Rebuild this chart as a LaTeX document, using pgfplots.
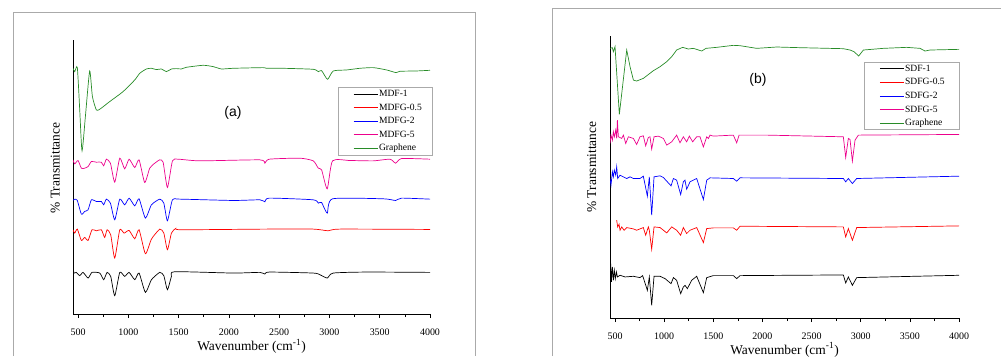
\documentclass[border=0pt]{standalone}
\usepackage{fontspec}
\setmainfont{Liberation Serif}
\newfontfamily\arialfont{Liberation Sans}
\usepackage{pgfplots}
\pgfplotsset{compat=1.18}
\definecolor{gcol}{RGB}{40,140,40}
\definecolor{framecol}{RGB}{170,170,170}
\pgfplotsset{
  legend image code/.code={\path (0bp,0bp); \draw[#1] (13bp,0bp) -- (37bp,0bp);},
  ftir/.style={
    scale only axis,
    anchor=south west,
    axis x line=bottom, axis y line=left,
    axis line style={-, line width=0.8bp, black},
    xmax=4000,
    xtick={500,1000,...,4000},
    minor x tick num=1,
    ytick=\empty,
    tick align=outside,
    major tick length=4bp, minor tick length=3bp,
    every tick/.style={black, line width=0.6bp},
    /pgf/number format/1000 sep={},
    /pgf/number format/assume math mode=true,
    xticklabel style={font=\fontsize{10}{12}\selectfont, anchor=center, yshift=-14bp},
    label style={font=\fontsize{13.5}{16}\selectfont},
    ylabel={\% Transmittance},
    xlabel={Wavenumber (cm\textsuperscript{-1})},
    legend cell align=left,
    legend style={draw=framecol, line width=0.6bp, font=\fontsize{9.6}{11.5}\selectfont,
      row sep=4.6bp, inner sep=2bp,
      nodes={inner xsep=1bp, inner ysep=0bp, text height=7bp, text depth=2bp}},
    every axis plot/.append style={line width=0.7bp},
  }
}
\begin{document}
\begin{tikzpicture}[x=1bp,y=1bp]
\useasboundingbox (0,0) rectangle (1001,356);
\draw[framecol, line width=0.8bp] (13,0) -- (13,344) -- (475,344) -- (475,0);
\draw[framecol, line width=0.8bp] (552,0) -- (552,348) -- (1001,348);
% ---------------- panel (a)
\begin{axis}[ftir, at={(73bp,42bp)}, width=357bp, height=274bp,
  xmin=450, ymin=57, ymax=880,
  ylabel style={at={(axis description cs:-0.05,0.533)}, anchor=center, rotate=0},
  xlabel style={at={(axis description cs:0.5,-0.117)}, anchor=center},
  legend style={at={(1.006,0.828)}, anchor=north east},
  every axis plot/.append style={smooth, tension=0.35}]
\addplot[black] coordinates {(450,200)(460,180)(483,182)(517,172)(550,182)(600,165)(639,182)(716,180)(755,160)(789,182)(825,170)(865,112)(915,182)(964,170)(1008,182)(1064,160)(1107,180)(1170,122)(1230,160)(1313,182)(1353,172)(1389,130)(1429,170)(1462,184)(2043,180)(2308,182)(2358,177)(2401,183)(2839,180)(2905,175)(2978,165)(3038,180)(3370,183)(4000,182)};
\addlegendentry{MDF-1}
\addplot[red] coordinates {(450,310)(467,300)(493,312)(533,278)(566,287)(600,278)(639,310)(682,307)(732,310)(765,287)(789,310)(825,295)(865,225)(915,310)(958,300)(1008,308)(1064,283)(1107,310)(1170,238)(1230,282)(1313,312)(1353,300)(1389,250)(1429,300)(1472,314)(1528,310)(2374,312)(2839,312)(2988,307)(3104,312)(4000,311)};
\addlegendentry{MDFG-0.5\hspace*{7bp}}
\addplot[blue] coordinates {(450,398)(467,402)(493,398)(533,357)(566,365)(600,370)(633,400)(682,395)(732,395)(755,385)(782,402)(822,390)(865,340)(915,402)(964,385)(1008,405)(1064,382)(1107,403)(1170,345)(1230,385)(1313,402)(1353,390)(1389,337)(1439,400)(1512,402)(2043,398)(2308,400)(2358,394)(2401,405)(2839,400)(2889,390)(2922,392)(2978,360)(3031,403)(3536,403)(3658,398)(3718,405)(4000,402)};
\addlegendentry{MDFG-2}
\addplot[magenta] coordinates {(450,520)(467,508)(500,518)(533,495)(566,495)(600,500)(633,515)(682,513)(732,513)(755,502)(782,522)(822,510)(865,453)(915,525)(964,493)(1008,522)(1064,497)(1107,520)(1163,452)(1213,495)(1263,510)(1313,520)(1346,513)(1389,437)(1439,517)(1495,522)(1711,517)(2308,520)(2358,510)(2401,522)(2706,525)(2839,517)(2889,495)(2922,490)(2978,433)(3031,517)(3204,518)(3436,517)(3602,522)(3658,510)(3718,524)(4000,522)};
\addlegendentry{MDFG-5}
\addplot[gcol] coordinates {(450,795)(467,785)(493,797)(517,670)(540,547)(576,660)(616,787)(643,710)(682,670)(716,672)(815,695)(948,725)(1064,760)(1114,780)(1180,793)(1230,795)(1280,791)(1329,793)(1379,785)(1429,793)(1479,794)(1528,793)(1578,798)(1744,804)(1844,800)(1926,793)(2043,795)(2341,797)(2374,795)(2540,795)(2839,792)(2889,785)(2922,788)(2981,762)(3038,787)(3171,790)(3303,795)(3436,797)(3569,790)(3662,782)(3701,786)(3867,787)(4000,789)};
\addlegendentry{Graphene}
\node[font=\arialfont\fontsize{14}{16}\selectfont] at (axis description cs:0.448,0.734) {(a)};
\end{axis}
% ---------------- panel (b)
\begin{axis}[ftir, at={(610bp,38bp)}, width=349bp, height=282bp,
  xmin=449, ymin=47, ymax=892,
  ylabel style={at={(axis description cs:-0.052,0.535)}, anchor=center, rotate=0},
  xlabel style={at={(axis description cs:0.5,-0.113)}, anchor=center},
  legend style={at={(1.003,0.908)}, anchor=north east}]
\addplot[black] coordinates {(449,170)(456,210)(463,155)(473,200)(483,160)(493,190)(503,165)(514,185)(524,170)(551,175)(602,170)(687,172)(754,168)(781,174)(829,130)(849,170)(873,85)(897,172)(958,172)(1009,165)(1070,150)(1094,168)(1127,160)(1168,120)(1195,140)(1212,145)(1236,135)(1280,160)(1331,172)(1399,123)(1433,168)(1500,174)(1704,174)(1738,165)(1772,174)(2823,176)(2847,152)(2874,170)(2915,145)(2959,168)(4000,175)};
\addlegendentry{SDF-1}
\addplot[red] coordinates {(517,340)(527,320)(541,328)(551,310)(568,320)(592,310)(619,318)(687,314)(720,310)(788,318)(812,295)(839,320)(849,310)(873,253)(897,320)(958,318)(1026,302)(1077,320)(1127,310)(1168,295)(1195,318)(1229,300)(1263,310)(1331,318)(1399,273)(1433,315)(1500,317)(1704,317)(1738,310)(1772,322)(2823,320)(2847,290)(2874,315)(2915,280)(2959,318)(4000,323)};
\addlegendentry{SDFG-0.5\hspace*{12bp}}
\addplot[blue] coordinates {(449,465)(459,445)(473,485)(483,470)(493,490)(507,475)(517,500)(527,465)(551,475)(585,470)(619,465)(653,470)(687,465)(754,465)(788,472)(829,412)(849,470)(873,355)(897,470)(958,473)(992,468)(1070,443)(1094,465)(1127,460)(1168,417)(1195,455)(1212,460)(1229,433)(1263,455)(1331,465)(1399,402)(1433,460)(1467,467)(1704,465)(1738,457)(1772,467)(2823,465)(2847,455)(2874,465)(2915,450)(2959,465)(4000,472)};
\addlegendentry{SDFG-2}
\addplot[magenta] coordinates {(449,570)(459,595)(473,580)(483,605)(493,590)(507,610)(517,585)(524,640)(534,590)(568,585)(585,595)(609,570)(636,590)(687,585)(720,567)(754,590)(788,593)(812,563)(839,588)(856,590)(873,553)(897,590)(941,592)(992,585)(1026,565)(1077,575)(1127,595)(1161,572)(1195,590)(1229,575)(1256,592)(1290,575)(1331,590)(1365,590)(1399,560)(1433,590)(1450,585)(1467,595)(1500,592)(1704,595)(1738,572)(1762,595)(2043,595)(2823,590)(2847,528)(2874,585)(2891,582)(2915,517)(2942,580)(2976,595)(4000,597)};
\addlegendentry{SDFG-5}
\addplot[gcol] coordinates {(449,855)(473,857)(483,845)(500,860)(544,657)(619,850)(653,800)(687,760)(720,757)(788,765)(890,788)(958,800)(1026,815)(1077,830)(1127,850)(1188,858)(1246,853)(1297,855)(1382,847)(1426,855)(1534,858)(1704,864)(1772,863)(1941,855)(2145,859)(2382,857)(2823,854)(2891,850)(2932,845)(2979,832)(3027,850)(3230,855)(3468,858)(3603,855)(3654,847)(3705,850)(4000,852)};
\addlegendentry{Graphene}
\node[font=\arialfont\fontsize{14}{16}\selectfont] at (axis description cs:0.424,0.844) {(b)};
\end{axis}
\end{tikzpicture}
\end{document}
